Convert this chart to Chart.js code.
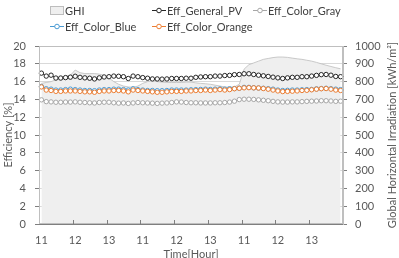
<!DOCTYPE html>
<html>
<head>
<meta charset="utf-8">
<script src="https://cdn.jsdelivr.net/npm/chart.js@4.4.1/dist/chart.umd.min.js"></script>
<style>
  html, body { margin: 0; padding: 0; background: #fff; }
  #wrap { position: relative; width: 399px; height: 258px; }
  #legend { position: absolute; left: 0; top: 0; width: 399px; height: 40px; font: 11px Lato, sans-serif; color: #404040; }
  .item { position: absolute; display: flex; align-items: center; white-space: nowrap; }
  .item svg { margin-right: 1px; }
</style>
</head>
<body>
<div id="wrap">
  <canvas id="chart" width="399" height="258"></canvas>
  <div id="legend"></div>
</div>
<script>
// Stunden-Beschriftung, 7 Messpunkte pro Stunde
const hourLabels = ["11", "12", "13", "11", "12", "13", "11", "12", "13"];
const pointsPerHour = 7;

// GHI [kWh/m2] (rechte Achse)
const ghi = [
  790, 795, 800, 810, 815, 830, 835,
  865, 850, 845, 845, 845, 842, 835,
  820, 800, 785, 775, 770, 768, 775,
  790, 800, 805, 800, 797, 795, 795,
  795, 795, 797, 797, 793, 790, 788,
  785, 780, 775, 770, 768, 770, 785,
  870, 895, 905, 915, 925, 930, 935,
  938, 938, 936, 932, 928, 925, 920,
  915, 908, 900, 892, 885, 878, 872
];

// Wirkungsgrade [%]
const effGeneral = [
  16.95, 16.62, 16.72, 16.40, 16.40, 16.45, 16.50,
  16.60, 16.48, 16.42, 16.38, 16.30, 16.42, 16.52,
  16.55, 16.62, 16.60, 16.55, 16.35, 16.62, 16.55,
  16.45, 16.38, 16.30, 16.30, 16.28, 16.30, 16.35,
  16.35, 16.35, 16.38, 16.38, 16.48, 16.52, 16.55,
  16.55, 16.62, 16.62, 16.68, 16.70, 16.78, 16.80,
  16.88, 16.88, 16.80, 16.72, 16.65, 16.58, 16.50,
  16.42, 16.35, 16.42, 16.48, 16.48, 16.55, 16.55,
  16.62, 16.70, 16.78, 16.80, 16.72, 16.58, 16.55
];
const effGray = [
  13.95, 13.75, 13.72, 13.68, 13.68, 13.70, 13.70,
  13.72, 13.68, 13.65, 13.62, 13.60, 13.65, 13.68,
  13.68, 13.62, 13.58, 13.60, 13.55, 13.60, 13.65,
  13.62, 13.60, 13.58, 13.55, 13.58, 13.60, 13.65,
  13.72, 13.70, 13.65, 13.62, 13.62, 13.60, 13.60,
  13.60, 13.62, 13.62, 13.65, 13.70, 13.80, 13.98,
  14.02, 14.02, 14.00, 13.95, 13.90, 13.85, 13.78,
  13.72, 13.70, 13.70, 13.72, 13.72, 13.75, 13.78,
  13.80, 13.82, 13.85, 13.85, 13.82, 13.78, 13.80
];
const effBlue = [
  15.45, 15.20, 15.15, 15.05, 15.05, 15.10, 15.15,
  15.10, 15.05, 15.00, 15.00, 14.98, 15.05, 15.10,
  15.10, 15.15, 15.15, 15.10, 15.05, 15.20, 15.10,
  15.05, 15.00, 15.00, 14.98, 14.98, 15.00, 15.05,
  15.05, 15.05, 15.05, 15.08, 15.10, 15.12, 15.15,
  15.12, 15.15, 15.18, 15.15, 15.20, 15.22, 15.25,
  15.35, 15.35, 15.30, 15.28, 15.25, 15.20, 15.15,
  15.05, 15.00, 15.02, 15.05, 15.05, 15.08, 15.10,
  15.12, 15.18, 15.22, 15.25, 15.20, 15.15, 15.10
];
const effOrange = [
  15.40, 15.05, 15.00, 14.90, 14.90, 14.95, 14.95,
  14.95, 14.90, 14.85, 14.85, 14.80, 14.90, 14.95,
  14.95, 15.00, 15.00, 14.95, 14.85, 15.05, 15.00,
  14.95, 14.90, 14.85, 14.80, 14.80, 14.85, 14.90,
  14.90, 14.90, 14.95, 14.95, 15.00, 15.00, 15.05,
  15.00, 15.05, 15.10, 15.05, 15.10, 15.20, 15.25,
  15.30, 15.32, 15.30, 15.28, 15.22, 15.15, 15.05,
  14.95, 14.88, 14.90, 14.92, 14.95, 15.00, 15.02,
  15.08, 15.15, 15.20, 15.22, 15.15, 15.05, 15.00
];

// Kategorien: erste Messung jeder Stunde bekommt die Beschriftung
let categories = [];
hourLabels.forEach(function (h) {
  for (let i = 0; i < pointsPerHour; i++) {
    categories.push(i === 0 ? h : "");
  }
});

const textColor = "#595959";
const font = { family: "Lato", size: 11 };

function lineSet(label, data, color, order) {
  return {
    label: label,
    data: data,
    borderColor: color,
    borderWidth: 1,
    pointRadius: 2.2,
    pointBorderWidth: 1,
    pointBackgroundColor: "#fff",
    pointBorderColor: color,
    yAxisID: "y",
    order: order,
  };
}

const datasets = [
  {
    label: "GHI",
    data: ghi,
    yAxisID: "y1",
    fill: "origin",
    backgroundColor: "#efefef",
    borderColor: "#bdbdbd",
    borderWidth: 0.8,
    pointRadius: 0,
    order: 10,
  },
  lineSet("Eff_General_PV", effGeneral, "#262626", 2),
  lineSet("Eff_Color_Gray", effGray, "#a6a6a6", 3),
  lineSet("Eff_Color_Blue", effBlue, "#4a9bd4", 1),
  lineSet("Eff_Color_Orange", effOrange, "#ed7d31", 0),
];

// rechter Achsentitel (liest von unten nach oben)
const rightTitle = {
  id: "rightTitle",
  afterDraw(chart) {
    const ctx = chart.ctx;
    const a = chart.chartArea;
    ctx.save();
    ctx.translate(chart.width - 7, (a.top + a.bottom) / 2);
    ctx.rotate(-Math.PI / 2);
    ctx.font = "11px Lato";
    ctx.fillStyle = textColor;
    ctx.textAlign = "center";
    ctx.textBaseline = "middle";
    ctx.fillText("Global Horizontal Irradiation [kWh/m²]", 0, 0);
    ctx.restore();
  },
};

// Rahmen um die Plotfläche + Stunden-Teilstriche nach innen
const plotBorder = {
  id: "plotBorder",
  afterDatasetsDraw(chart) {
    const ctx = chart.ctx;
    const a = chart.chartArea;
    const x = chart.scales.x;
    ctx.save();
    ctx.strokeStyle = "#bfbfbf";
    ctx.lineWidth = 1;
    ctx.strokeRect(a.left + 0.5, a.top + 0.5, a.width - 1, a.height - 1);
    ctx.strokeStyle = "#7f7f7f";
    ctx.beginPath();
    for (let i = pointsPerHour; i < categories.length; i += pointsPerHour) {
      let px = Math.round((x.getPixelForValue(i - 1) + x.getPixelForValue(i)) / 2) + 0.5;
      ctx.moveTo(px, a.bottom);
      ctx.lineTo(px, a.bottom - 4);
    }
    ctx.stroke();
    ctx.restore();
  },
};

const config = {
  type: "line",
  data: { labels: categories, datasets: datasets },
  options: {
    responsive: false,
    animation: false,
    layout: { padding: { top: 46, left: 0, right: 0, bottom: 0 } },
    plugins: {
      legend: { display: false },
      tooltip: { enabled: false },
    },
    scales: {
      x: {
        offset: true,
        afterFit: function (s) { s.height = 34; },
        grid: { display: false, drawTicks: false, tickLength: 0 },
        border: { color: "#7f7f7f" },
        ticks: {
          autoSkip: false,
          maxRotation: 0,
          padding: 10,
          color: textColor,
          font: font,
          callback: function (v, i) { return categories[i]; },
        },
        title: {
          display: true,
          text: "Time[Hour]",
          color: textColor,
          font: font,
          padding: { top: 0, bottom: -3 },
        },
      },
      y: {
        position: "left",
        min: 0,
        max: 20,
        afterFit: function (s) { s.width = 39; },
        ticks: { stepSize: 2, color: textColor, font: font, padding: 9 },
        grid: { color: "#d9d9d9", tickColor: "#7f7f7f", tickLength: 4 },
        border: { color: "#7f7f7f" },
        title: {
          display: true,
          text: "Efficiency [%]",
          color: textColor,
          font: font,
          padding: { top: 2, bottom: 0 },
        },
      },
      y1: {
        position: "right",
        min: 0,
        max: 1000,
        afterFit: function (s) { s.width = 56; },
        ticks: {
          stepSize: 100,
          color: textColor,
          font: font,
          padding: 8,
          callback: function (v) { return String(v); },
        },
        grid: { drawOnChartArea: false, tickColor: "#7f7f7f", tickLength: 4 },
        border: { color: "#bfbfbf" },
      },
    },
  },
  plugins: [rightTitle, plotBorder],
};

const chart = new Chart(document.querySelector("#chart"), config);

// Legende im Excel-Raster (zwei Zeilen, Spalten ausgerichtet)
const legendPos = [[50, 11], [152, 11], [253, 11], [50, 27], [152, 27]];
let legend = document.querySelector("#legend");
datasets.forEach(function (ds, k) {
  let swatch;
  if (k === 0) {
    swatch = '<svg width="14" height="9"><rect x="0.5" y="0.5" width="13" height="8" fill="#efefef" stroke="#bdbdbd"/></svg>';
  } else {
    swatch = '<svg width="14" height="9"><line x1="0" y1="4.5" x2="14" y2="4.5" stroke="' + ds.borderColor +
      '"/><circle cx="7" cy="4.5" r="2.3" fill="#fff" stroke="' + ds.borderColor + '"/></svg>';
  }
  let item = document.createElement("div");
  item.className = "item";
  item.style.left = legendPos[k][0] + "px";
  item.style.top = (legendPos[k][1] - 7) + "px";
  item.innerHTML = swatch + "<span>" + ds.label + "</span>";
  legend.appendChild(item);
});
</script>
</body>
</html>
